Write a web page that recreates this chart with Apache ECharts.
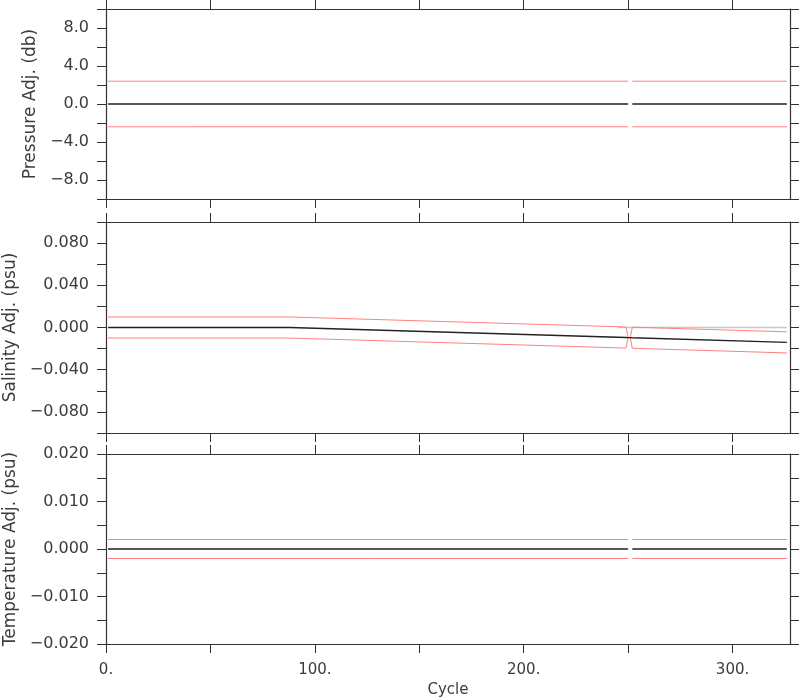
<!DOCTYPE html>
<html><head><meta charset="utf-8">
<script src="https://cdn.jsdelivr.net/npm/echarts@6/dist/echarts.min.js"></script>
<style>html,body{margin:0;padding:0;background:#fff}#c{width:800px;height:700px}</style>
</head><body><div id="c"></div><script>
// ---- data ----
const xMin = 0, xMax = 327.5;
const xTickValues = [0, 50, 100, 150, 200, 250, 300];
const xLabelValues = [0, 100, 200, 300];

const presCycles = [1, 250, 251, 252, 326];
const presAdj    = [0, 0, null, 0, 0];
const presErr    = [2.4, 2.4, null, 2.4, 2.4];
const presLabels = [-8, -4, 0, 4, 8];

const salCycles = [1, 88, 249, 250, 251, 252, 326];
const salAdj    = [0, 0, -0.0095, -0.0096, -0.0096, -0.0097, -0.0141];
const salErr    = [0.01, 0.01, 0.01, 0, 0, 0.01, 0.01];
const salRefCycles = [245, 326];
const salRef       = [0, 0];
const salLabels = [-0.08, -0.04, 0, 0.04, 0.08];

const tempCycles = [1, 250, 251, 252, 326];
const tempAdj    = [0, 0, null, 0, 0];
const tempErr    = [0.002, 0.002, null, 0.002, 0.002];
const tempLabels = [-0.02, -0.01, 0, 0.01, 0.02];

// ---- helpers ----
function pairs(cyc, vals) { return cyc.map((c, i) => [c, vals[i] == null ? '-' : vals[i]]); }
function band(cyc, adj, err, sign) {
  return cyc.map((c, i) => [c, (adj[i] == null || err[i] == null) ? '-' : adj[i] + sign * err[i]]);
}
const axisColor = '#333';
const textColor = '#3c3c3c';
const FONT = 'DejaVu Sans';
const fmtMinus = s => s.replace('-', '\u2212');

const grids = [
  {left: 106, right: 10, top: 9, height: 190, containLabel: false, outerBoundsMode: 'none'},
  {left: 106, right: 10, top: 222, height: 211, containLabel: false, outerBoundsMode: 'none'},
  {left: 106, right: 10, top: 454, height: 190, containLabel: false, outerBoundsMode: 'none'}
];

const xAxes = [], yAxes = [], series = [];
const panels = [
  {name: 'Pressure Adj. (db)', min: -10, max: 10, interval: 2, labels: presLabels, dec: 1, gap: 63,
   cyc: presCycles, adj: presAdj, err: presErr},
  {name: 'Salinity Adj. (psu)', min: -0.1, max: 0.1, interval: 0.02, labels: salLabels, dec: 3, gap: 86,
   cyc: salCycles, adj: salAdj, err: salErr},
  {name: 'Temperature Adj. (psu)', min: -0.02, max: 0.02, interval: 0.005, labels: tempLabels, dec: 3, gap: 86,
   cyc: tempCycles, adj: tempAdj, err: tempErr}
];

panels.forEach((p, i) => {
  const last = i === 2;
  xAxes.push({
    type: 'value', gridIndex: i, position: 'bottom', min: xMin, max: xMax, interval: 50,
    axisLine: {show: true, onZero: false, lineStyle: {color: axisColor, width: 1.2}},
    axisTick: {show: true, inside: false, length: 9, customValues: xTickValues, lineStyle: {color: axisColor}},
    axisLabel: {show: last, customValues: xLabelValues, formatter: v => v + '.', margin: 19,
                fontFamily: FONT, fontSize: 15, color: textColor},
    splitLine: {show: false},
    name: last ? 'Cycle' : '', nameLocation: 'middle', nameGap: 39,
    nameTextStyle: {fontFamily: FONT, fontSize: 15, color: textColor}
  });
  xAxes.push({
    type: 'value', gridIndex: i, position: 'top', min: xMin, max: xMax, interval: 50,
    axisLine: {show: true, onZero: false, lineStyle: {color: axisColor, width: 1.2}},
    axisTick: {show: true, inside: false, length: 9, customValues: xTickValues, lineStyle: {color: axisColor}},
    axisLabel: {show: false}, splitLine: {show: false}
  });
  yAxes.push({
    type: 'value', gridIndex: i, position: 'left', min: p.min, max: p.max, interval: p.interval,
    axisLine: {show: true, onZero: false, lineStyle: {color: axisColor, width: 1.2}},
    axisTick: {show: true, inside: false, length: 9, lineStyle: {color: axisColor}},
    axisLabel: {show: true, customValues: p.labels, margin: 17,
                formatter: v => fmtMinus(Number(v).toFixed(p.dec)),
                fontFamily: FONT, fontSize: 16, color: textColor},
    splitLine: {show: false},
    name: p.name, nameLocation: 'middle', nameGap: p.gap, nameRotate: 90,
    nameTextStyle: {fontFamily: FONT, fontSize: 17, color: textColor}
  });
  yAxes.push({
    type: 'value', gridIndex: i, position: 'right', min: p.min, max: p.max, interval: p.interval,
    axisLine: {show: true, onZero: false, lineStyle: {color: axisColor, width: 1.2}},
    axisTick: {show: true, inside: false, length: 9, lineStyle: {color: axisColor}},
    axisLabel: {show: false}, splitLine: {show: false}
  });
  const xi = 2 * i, yi = 2 * i;
  const common = {type: 'line', xAxisIndex: xi, yAxisIndex: yi, showSymbol: false, symbol: 'none',
                  connectNulls: false, silent: true, animation: false};
  if (i === 1) {
    series.push(Object.assign({}, common, {data: pairs(salRefCycles, salRef),
      lineStyle: {color: '#c8c8c8', width: 1.5}}));
  }
  series.push(Object.assign({}, common, {data: band(p.cyc, p.adj, p.err, 1),
    lineStyle: {color: '#ff8080', width: 1}}));
  series.push(Object.assign({}, common, {data: band(p.cyc, p.adj, p.err, -1),
    lineStyle: {color: '#ff8080', width: 1}}));
  series.push(Object.assign({}, common, {data: pairs(p.cyc, p.adj),
    lineStyle: {color: '#222', width: 1.4}}));
});

const chart = echarts.init(document.getElementById('c'), null, {renderer: 'canvas'});
chart.setOption({
  backgroundColor: '#fff', animation: false,
  grid: grids, xAxis: xAxes, yAxis: yAxes, series: series
});
</script></body></html>
